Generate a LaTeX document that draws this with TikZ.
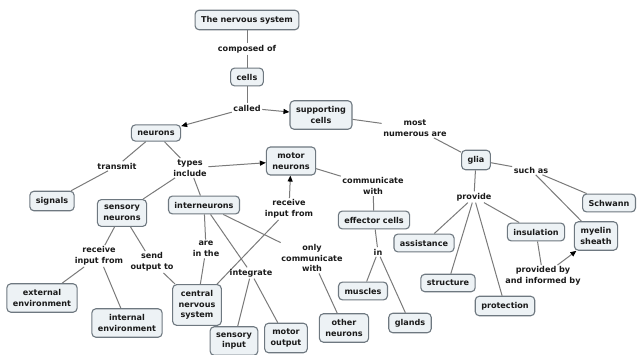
\documentclass[tikz,border=0pt]{standalone}
\usepackage{fontspec}
\setmainfont{DejaVu Sans}
\usetikzlibrary{arrows.meta}
\definecolor{boxline}{HTML}{6E7880}
\definecolor{boxfill}{HTML}{EDF2F5}
\definecolor{lineclr}{HTML}{7A7A7A}
\definecolor{textclr}{HTML}{1A1A1A}
\newcommand\cmfont{\fontsize{8.1}{10.6}\selectfont\bfseries}
\pgfdeclarelayer{bg}
\pgfsetlayers{bg,main}
\begin{document}
\begin{tikzpicture}[x=1pt,y=-1pt,
 box/.style={draw=boxline, fill=boxfill, rounded corners=4pt, line width=1.1pt, inner xsep=6pt, inner ysep=5.8pt, align=center, font=\cmfont, text=textclr},
 lab/.style={inner sep=1.5pt, align=center, font=\cmfont, text=textclr},
 conn/.style={draw=lineclr, line width=1pt},
 arr/.style={conn, -{Triangle[length=6pt,width=5pt,color=black]}}]
\useasboundingbox (0,0) rectangle (637,355);
\node[box] (ns) at (247,20) {The nervous system};
\node[lab] (comp) at (247,49) {composed of};
\node[box] (cells) at (247,77) {cells};
\node[lab] (called) at (247,108) {called};
\node[box] (sup) at (321,115) {supporting\\cells};
\node[box] (neu) at (156,133) {neurons};
\node[lab] (trans) at (117,166) {transmit};
\node[lab] (types) at (190,168) {types\\include};
\node[box] (mn) at (291,161) {motor\\neurons};
\node[lab] (most) at (415,128) {most\\numerous are};
\node[box] (glia) at (476,160) {glia};
\node[lab] (such) at (531,170) {such as};
\node[lab] (comm) at (373,186) {communicate\\with};
\node[lab] (prov) at (474,197) {provide};
\node[box] (schw) at (609,203) {Schwann};
\node[box] (eff) at (374,220) {effector cells};
\node[box] (ins) at (536,232) {insulation};
\node[box] (mye) at (596,236) {myelin\\sheath};
\node[box] (ass) at (424,243) {assistance};
\node[box] (sig) at (52,201) {signals};
\node[box] (sn) at (122,213) {sensory\\neurons};
\node[box] (inter) at (204,205) {interneurons};
\node[lab] (rif2) at (289,209) {receive\\input from};
\node[lab] (rif1) at (99,256) {receive\\input from};
\node[lab] (send) at (152,262) {send\\output to};
\node[lab] (arein) at (206,249) {are\\in the};
\node[lab] (only) at (312,258) {only\\communicate\\with};
\node[lab] (integ) at (251,273) {integrate};
\node[box] (ext) at (42,298) {external\\environment};
\node[box] (int) at (127,323) {internal\\environment};
\node[box] (cns) at (197,305) {central\\nervous\\system};
\node[box] (si) at (234,341) {sensory\\input};
\node[box] (mo) at (286,338) {motor\\output};
\node[lab] (in) at (378,252) {in};
\node[box] (mus) at (363,291) {muscles};
\node[box] (gla) at (410,323) {glands};
\node[box] (oth) at (344,328) {other\\neurons};
\node[box] (str) at (448,283) {structure};
\node[box] (prot) at (505,306) {protection};
\node[lab] (provby) at (543,276) {provided by\\and informed by};
\begin{pgfonlayer}{bg}
\draw[conn] (ns) -- (comp);
\draw[conn] (comp) -- (cells);
\draw[conn] (cells) -- (called);
\draw[arr] (called) -- (neu);
\draw[arr] (called) -- (sup);
\draw[conn] (sup) -- (most);
\draw[conn] (most) -- (glia);
\draw[conn] (neu) -- (trans);
\draw[conn] (trans) -- (sig);
\draw[conn] (neu) -- (types);
\draw[arr] (types) -- (mn);
\draw[conn] (types) -- (sn);
\draw[conn] (types) -- (inter);
\draw[conn] (mn) -- (comm);
\draw[conn] (comm) -- (eff);
\draw[conn] (eff) -- (in);
\draw[conn] (in) -- (mus);
\draw[conn] (in) -- (gla);
\draw[conn] (sn) -- (rif1);
\draw[conn] (rif1) -- (ext);
\draw[conn] (rif1) -- (int);
\draw[conn] (sn) -- (send);
\draw[conn] (send) -- (cns);
\draw[conn] (inter) -- (arein);
\draw[conn] (arein) -- (cns);
\draw[conn] (inter) -- (integ);
\draw[conn] (integ) -- (si);
\draw[conn] (integ) -- (mo);
\draw[conn] (inter) -- (only);
\draw[conn] (only) -- (oth);
\draw[conn] (cns) -- (rif2);
\draw[arr] (rif2) -- (mn);
\draw[conn] (glia) -- (such);
\draw[conn] (such) -- (schw);
\draw[conn] (such) -- (mye);
\draw[conn] (glia) -- (prov);
\draw[conn] (prov) -- (ass);
\draw[conn] (prov) -- (str);
\draw[conn] (prov) -- (prot);
\draw[conn] (prov) -- (ins);
\draw[conn] (ins) -- (provby);
\draw[arr] (provby) -- (mye);
\end{pgfonlayer}
\end{tikzpicture}
\end{document}
